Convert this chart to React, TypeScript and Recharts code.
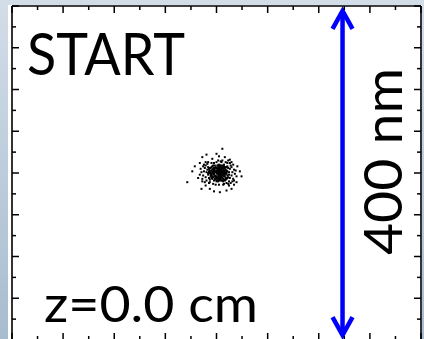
import React from 'react';
import { ScatterChart, Scatter, XAxis, YAxis, ReferenceLine } from 'recharts';

// particle positions in nm (x, y)
const cloudPoints: [number, number][] = [
  [2, 1], [-3, 4], [5, -2], [8, 3], [-6, -1], [1, -6], [4, 7], [-1, 2], [10, -4], [7, 6],
  [-8, 3], [3, -8], [0, 0], [6, 1], [-4, -5], [9, 8], [12, -1], [-2, 9], [4, -3], [-7, 6],
  [11, 4], [2, -10], [-5, 1], [8, -7], [1, 5], [-10, -2], [6, -5], [3, 3], [-3, -2], [13, 2],
  [0, -4], [5, 9], [-6, 7], [9, -1], [-1, -8], [7, -3], [4, 0], [-9, 5], [2, 7], [10, 6],
  [-4, 2], [6, 4], [14, -5], [-2, -4], [3, 10], [8, 0], [-7, -4], [1, 3], [11, -8], [5, 5],
  [-3, 6], [0, -10], [12, 7], [-8, 0], [4, -6], [7, 9], [-5, -7], [9, 3], [2, -2], [-1, 7],
  [15, 1], [6, -9], [-11, 4], [3, -5], [8, -10], [-4, 9], [10, 1], [1, -1], [5, -8], [-6, -3],
  [13, -3], [0, 6], [7, 2], [-9, -6], [4, 4], [11, -6], [-2, 1], [6, 8], [2, -7], [-7, 1],
  [9, -4], [3, 1], [-3, -9], [12, 3], [0, 3], [5, -1], [-5, 4], [8, 5], [1, 9], [14, 6],
  [-8, -8], [6, -2], [-1, -3], [10, -9], [4, 2], [-4, -1], [7, -6], [2, 4], [-10, 7], [9, 10],
  [3, -1], [-2, 5], [11, 0], [5, 2], [-6, -6], [1, -5], [13, 8], [8, -2], [-3, 0], [6, 6],
  [0, -7], [10, 3], [-5, 8], [4, -9], [7, 0], [-9, 2], [2, 2], [12, -7], [-1, -5], [5, 7],
  [8, 8], [-7, -2], [3, 6], [15, -2], [-4, 5], [9, -8], [1, 1], [6, -4], [-2, -7], [11, 7],
  [4, 9], [-8, 6], [7, -9], [0, 2], [13, -6], [3, -3], [-6, 3], [10, -2], [2, 9], [-3, 3],
  [8, 2], [5, -6], [-10, 0], [12, 1], [1, -9], [6, 3], [-5, -4], [9, 6], [4, -4],
  [16, 5], [-13, -5], [18, -3], [-14, 6], [17, 9], [-12, -9], [19, 1], [-15, 2], [15, -10], [-11, 11],
  [20, -7], [-16, -3], [16, 12], [-13, 9], [21, 4], [-17, -7], [14, -13], [-9, -12], [18, 7], [-15, 10],
  [22, -1], [-18, 1], [13, 12], [-10, 13], [19, -10], [-14, -11], [17, -12], [-19, 5], [23, 3], [-12, 1],
  [16, -6], [5, 14], [0, 13], [8, -14], [-4, -13], [11, 13], [3, -14], [-6, 12], [20, 10], [-16, 8],
  [14, 15], [2, 15], [9, -13], [-1, -14], [24, -4], [-20, -2], [12, -12], [-8, -11], [6, 13], [-17, -10],
  [21, -9], [-13, 13], [18, 13], [15, -15], [7, 15], [-3, 12],
  [7, 29], [0, 23], [-12, 22], [-17, 19], [10, 19], [-26, 8], [-29, 2], [-35, -11], [25, 8], [28, 2],
  [30, -4], [24, -11], [-18, -19], [-8, -19], [4, -23], [12, -21], [18, -19], [-22, -6], [-20, 12], [3, 20],
  [16, 16], [-5, 17], [21, -14], [-13, -15], [-3, -22],
];

const xDomain = [-245, 245];
const yDomain = [-200, 200];
const xTicks = [-245, -214.4, -183.8, -153.1, -122.5, -91.9, -61.3, -30.6, 0, 30.6, 61.3, 91.9, 122.5, 153.1, 183.8, 214.4, 245];
const yTicks = [-200, -175, -150, -125, -100, -75, -50, -25, 0, 25, 50, 75, 100, 125, 150, 175, 200];

// scale bar: 400 nm
const scaleBarX = 151;
const scaleBarEnds = [-199, 199];

const startLabel = 'START';
const zLabel = 'z=0.0 cm';
const scaleLabel = '400 nm';

const cloud = cloudPoints.map(([x, y]) => ({ x, y }));

const inTick = (side: 'top' | 'bottom' | 'left' | 'right') => (props: any) => {
  const { x, y, index } = props;
  const len = index % 2 === 0 ? 7 : 4;
  let x2 = x;
  let y2 = y;
  if (side === 'top') y2 = y + len;
  if (side === 'bottom') y2 = y - len;
  if (side === 'left') x2 = x + len;
  if (side === 'right') x2 = x - len;
  return <line x1={x} y1={y} x2={x2} y2={y2} stroke="#000" strokeWidth={1.5} />;
};

const Dot = (p: any) => (
  <rect x={p.cx - 1} y={p.cy - 1} width={2} height={2} fill="#000" />
);

const Arrow = (p: any) => {
  const { x1, y1, y2 } = p;
  const top = Math.min(y1, y2) + 4;
  const bot = Math.max(y1, y2) - 4;
  const c = '#0000ff';
  return (
    <g>
      <line x1={x1} y1={top + 2} x2={x1} y2={bot - 2} stroke={c} strokeWidth={4.5} />
      <polyline points={`${x1 - 10},${top + 18} ${x1},${top} ${x1 + 10},${top + 18}`} fill="none" stroke={c} strokeWidth={4.5} strokeLinejoin="miter" />
      <polyline points={`${x1 - 10},${bot - 18} ${x1},${bot} ${x1 + 10},${bot - 18}`} fill="none" stroke={c} strokeWidth={4.5} strokeLinejoin="miter" />
    </g>
  );
};

const axisLine = { stroke: '#000', strokeWidth: 1.6 };
const font = 'Lato, "Open Sans", sans-serif';

export default function App() {
  return (
    <div style={{ position: 'fixed', left: 0, top: 0, width: 424, height: 339, overflow: 'hidden', background: 'linear-gradient(to bottom, #d3dde8, #a8bccf)' }}>
      <div style={{ position: 'absolute', left: 8, top: 5, width: 414, height: 340, background: '#fff' }} />
      <div style={{ position: 'absolute', left: 0, top: 0 }}>
        <ScatterChart width={424} height={346} margin={{ top: 5, right: 2, bottom: 5, left: 11 }}>
          <XAxis xAxisId="b" type="number" dataKey="x" domain={xDomain} ticks={xTicks} interval={0} orientation="bottom" height={1} tickSize={0} tickMargin={0} axisLine={axisLine} tickLine={false} tick={inTick('bottom')} allowDataOverflow />
          <XAxis xAxisId="t" type="number" dataKey="x" domain={xDomain} ticks={xTicks} interval={0} orientation="top" height={1} tickSize={0} tickMargin={0} axisLine={axisLine} tickLine={false} tick={inTick('top')} allowDataOverflow />
          <YAxis yAxisId="l" type="number" dataKey="y" domain={yDomain} ticks={yTicks} interval={0} orientation="left" width={1} tickSize={0} tickMargin={0} axisLine={axisLine} tickLine={false} tick={inTick('left')} allowDataOverflow />
          <YAxis yAxisId="r" type="number" dataKey="y" domain={yDomain} ticks={yTicks} interval={0} orientation="right" width={1} tickSize={0} tickMargin={0} axisLine={axisLine} tickLine={false} tick={inTick('right')} allowDataOverflow />
          <Scatter xAxisId="t" yAxisId="r" data={cloud} shape={() => <g />} isAnimationActive={false} />
          <Scatter xAxisId="b" yAxisId="l" data={cloud} shape={Dot} isAnimationActive={false} />
          <ReferenceLine
            xAxisId="b"
            yAxisId="l"
            segment={[{ x: scaleBarX, y: scaleBarEnds[0] }, { x: scaleBarX, y: scaleBarEnds[1] }]}
            shape={Arrow}
          />
        </ScatterChart>
      </div>
      <svg width={424} height={339} style={{ position: 'absolute', left: 0, top: 0, pointerEvents: 'none' }}>
        <text x={27} y={75} fontFamily={font} fontSize={58} fill="#000" textLength={158} lengthAdjust="spacingAndGlyphs">{startLabel}</text>
        <text x={44} y={322} fontFamily={font} fontSize={50} fill="#000" textLength={214} lengthAdjust="spacingAndGlyphs">{zLabel}</text>
        <text x={0} y={0} transform="translate(402,255) rotate(-90)" fontFamily={font} fontSize={52} fill="#000" textLength={187} lengthAdjust="spacingAndGlyphs">{scaleLabel}</text>
      </svg>
    </div>
  );
}
